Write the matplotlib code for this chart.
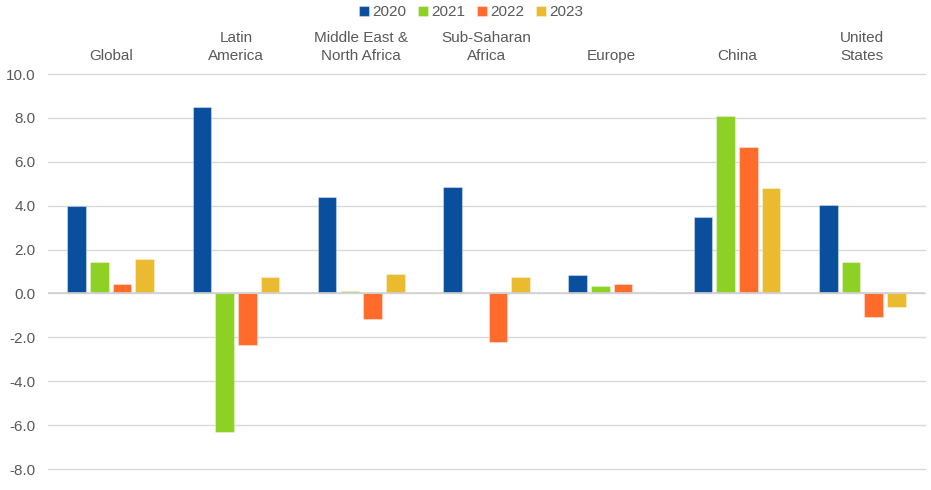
import numpy as np
import matplotlib
matplotlib.use("Agg")
import matplotlib.pyplot as plt

plt.rcParams['font.family'] = ['Liberation Sans', 'DejaVu Sans']

regions = ["Global", "Latin\nAmerica", "Middle East &\nNorth Africa", "Sub-Saharan\nAfrica",
           "Europe", "China", "United\nStates"]
years = ["2020", "2021", "2022", "2023"]
v2020 = [4.0, 8.5, 4.4, 4.84, 0.82, 3.5, 4.03]
v2021 = [1.42, -6.3, 0.1, 0.02, 0.36, 8.09, 1.42]
v2022 = [0.44, -2.33, -1.15, -2.2, 0.44, 6.68, -1.06]
v2023 = [1.59, 0.76, 0.9, 0.77, 0.0, 4.82, -0.62]
colors = ["#0A4F9E", "#8CD124", "#FF6B2A", "#EBBB2F"]

series = [v2020, v2021, v2022, v2023]
x = np.arange(len(regions))
step = 0.181
width = 0.148

fig = plt.figure(figsize=(9.31, 4.90), dpi=100)
ax = fig.add_axes([48/931, 1 - 469/490, 877/931, 395/490])

for i, (vals, c, lab) in enumerate(zip(series, colors, years)):
    ax.bar(x + (i - 1.5) * step, vals, width, color=c, label=lab, zorder=3,
           edgecolor=(1, 1, 1, 0.35), linewidth=0.8)

ax.set_xlim(-0.5, len(regions) - 0.5)
ax.set_ylim(-8, 10)
ax.set_yticks(np.arange(-8, 10.1, 2))
ax.set_yticklabels([f"{t:.1f}" for t in np.arange(-8, 10.1, 2)])
ax.grid(axis='y', color='#D9D9D9', linewidth=1, zorder=0, clip_on=False)
ax.axhline(0, color='#D0D0D0', linewidth=1.2, zorder=4)
for s in ax.spines.values():
    s.set_visible(False)
ax.tick_params(axis='y', length=0, labelsize=11, labelcolor='#595959', pad=9)
ax.tick_params(axis='x', length=0)
ax.set_xticks([])

for xi, name in zip(x, regions):
    ax.text(xi, 10.5, name, ha='center', va='bottom', fontsize=11,
            color='#595959', linespacing=1.38)

leg = fig.legend(loc='upper center', bbox_to_anchor=(0.506, 1.017), ncol=4, frameon=False,
                 fontsize=11, handlelength=0.65, handleheight=0.65, handletextpad=0.2,
                 columnspacing=0.8)
for t in leg.get_texts():
    t.set_color('#595959')

fig.savefig("out.png", dpi=100)
